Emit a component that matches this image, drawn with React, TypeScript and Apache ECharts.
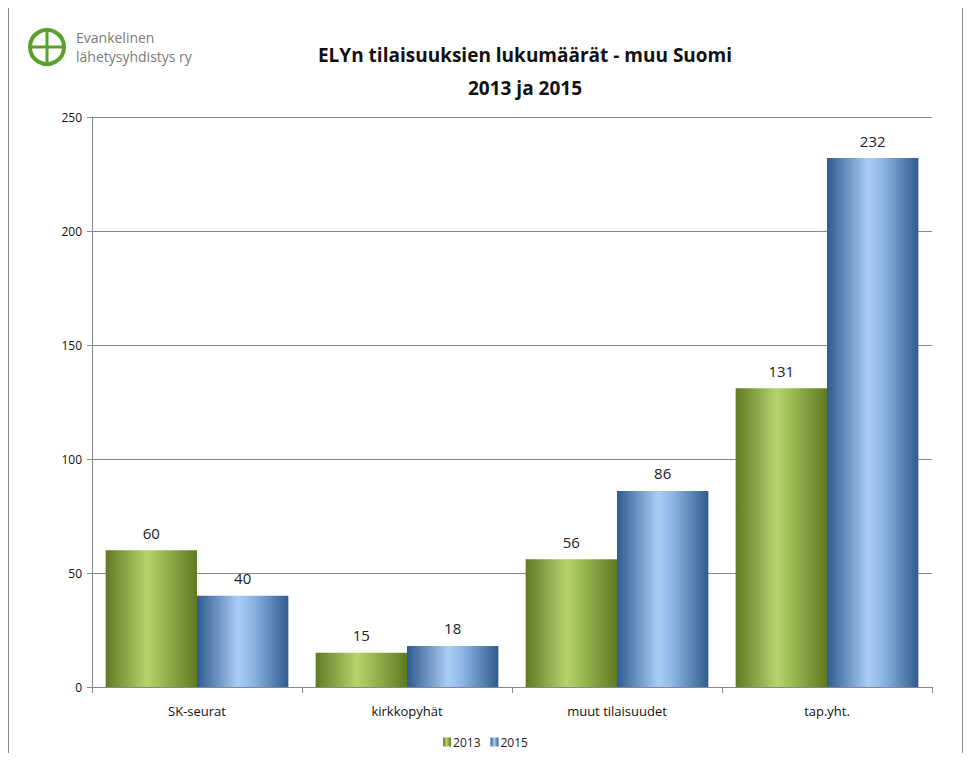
import React, { useEffect, useRef } from "react";
import * as echarts from "echarts";

const categories = ["SK-seurat", "kirkkopyhät", "muut tilaisuudet", "tap.yht."];
const values2013 = [60, 15, 56, 131];
const values2015 = [40, 18, 86, 232];
const yTicks = { min: 0, max: 250, interval: 50 };
const seriesNames = ["2013", "2015"];

const FONT = "'Liberation Sans Narrow', 'Open Sans', sans-serif";

function grad(edge: string, mid: string, light: string) {
  return new echarts.graphic.LinearGradient(0, 0, 1, 0, [
    { offset: 0, color: edge },
    { offset: 0.45, color: light },
    { offset: 0.6, color: mid },
    { offset: 1, color: edge },
  ]);
}

export default function App() {
  const ref = useRef<HTMLDivElement>(null);
  useEffect(() => {
    const chart = echarts.init(ref.current!, null, { renderer: "svg" });
    chart.setOption({
      animation: false,
      backgroundColor: "#ffffff",
      graphic: [
        { type: "rect", shape: { x: 8.5, y: 7.5, width: 954, height: 760 }, style: { fill: "none", stroke: "#8a8a8a", lineWidth: 1 } },
        { type: "circle", shape: { cx: 47, cy: 47, r: 17 }, style: { fill: "none", stroke: "#5aa02c", lineWidth: 4 } },
        { type: "line", shape: { x1: 47, y1: 30, x2: 47, y2: 64 }, style: { stroke: "#5aa02c", lineWidth: 3 } },
        { type: "line", shape: { x1: 30, y1: 47, x2: 64, y2: 47 }, style: { stroke: "#5aa02c", lineWidth: 3 } },
        { type: "text", x: 76, y: 30, style: { text: "Evankelinen", fill: "#7a7a7a", font: "14px 'Open Sans', sans-serif" } },
        { type: "text", x: 76, y: 49, style: { text: "lähetysyhdistys ry", fill: "#7a7a7a", font: "14px 'Open Sans', sans-serif" } },
      ],
      title: {
        text: "ELYn tilaisuuksien lukumäärät - muu Suomi\n2013 ja 2015",
        left: 520,
        textAlign: "center",
        top: 33,
        textStyle: { fontFamily: FONT, fontSize: 19, fontWeight: "bold", color: "#111", lineHeight: 33 },
      },
      legend: {
        bottom: 8,
        left: "center",
        itemWidth: 8,
        itemHeight: 9,
        itemGap: 10,
        icon: "rect",
        textStyle: { fontFamily: FONT, fontSize: 12, color: "#222", padding: [0, 0, 0, -3] },
        data: seriesNames,
      },
      grid: { left: 92, right: 39, top: 117, bottom: 74, containLabel: false },
      xAxis: {
        type: "category",
        data: categories,
        axisLine: { lineStyle: { color: "#888" } },
        axisTick: { show: true, length: 6, lineStyle: { color: "#888" } },
        axisLabel: { fontFamily: FONT, fontSize: 13, color: "#111", margin: 17 },
      },
      yAxis: {
        type: "value",
        min: yTicks.min,
        max: yTicks.max,
        interval: yTicks.interval,
        axisLine: { show: true, lineStyle: { color: "#888" } },
        axisTick: { show: true, length: 5, lineStyle: { color: "#888" } },
        splitLine: { lineStyle: { color: "#888" } },
        axisLabel: { fontFamily: FONT, fontSize: 12, color: "#111", margin: 10 },
      },
      series: [
        {
          name: seriesNames[0],
          type: "bar",
          data: values2013,
          barGap: "0%",
          barCategoryGap: "13%",
          itemStyle: { color: grad("#5f7a22", "#9dbd55", "#b5d46e") },
          label: { show: true, position: "top", distance: 10, fontFamily: FONT, fontSize: 15, color: "#222" },
        },
        {
          name: seriesNames[1],
          type: "bar",
          data: values2015,
          itemStyle: { color: grad("#2f5b8f", "#8fb8e6", "#a9cdf5") },
          label: { show: true, position: "top", distance: 10, fontFamily: FONT, fontSize: 15, color: "#222" },
        },
      ],
    });
    return () => chart.dispose();
  }, []);
  return <div ref={ref} style={{ width: 971, height: 761, margin: -8 }} />;
}
